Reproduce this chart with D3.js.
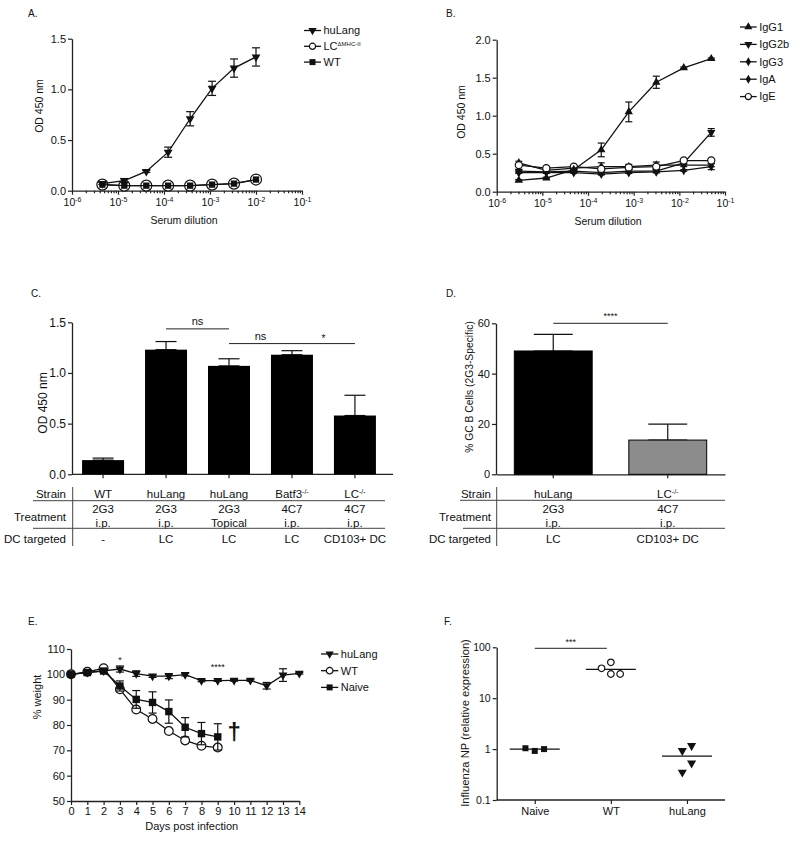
<!DOCTYPE html>
<html><head><meta charset="utf-8">
<script src="https://cdn.jsdelivr.net/npm/d3@7"></script>
<style>
body{margin:0;background:#fff}
text{font-family:"Liberation Sans",Arial,sans-serif;fill:#111}
</style>
</head><body><svg id="c" width="800" height="841"></svg>
<script>
// ---------------- DATA ----------------
// Panel A
const dilutionA = [4.57e-6, 1.37e-5, 4.12e-5, 1.23e-4, 3.7e-4, 1.11e-3, 3.33e-3, 1e-2];
const huLangA    = [0.07, 0.10, 0.19, 0.38, 0.71, 1.01, 1.21, 1.32];
const huLangAErr = [0.01, 0.02, 0.01, 0.05, 0.07, 0.07, 0.09, 0.09];
const lcMhcA     = [0.06, 0.05, 0.05, 0.05, 0.05, 0.06, 0.07, 0.11];
const wtA        = [0.06, 0.05, 0.05, 0.05, 0.05, 0.06, 0.07, 0.11];
const legendA    = ["huLang", "LC", "WT"];
// Panel B
const dilutionB = [3.05e-6, 1.22e-5, 4.88e-5, 1.95e-4, 7.81e-4, 3.125e-3, 1.25e-2, 5e-2];
const igG1     = [0.15, 0.18, 0.29, 0.55, 1.05, 1.44, 1.63, 1.75];
const igG1Err  = [0.01, 0.01, 0.02, 0.09, 0.13, 0.08, 0.01, 0.01];
const igG2b    = [0.27, 0.26, 0.27, 0.25, 0.27, 0.27, 0.38, 0.78];
const igG2bErr = [0.01, 0.01, 0.01, 0.02, 0.02, 0.02, 0.02, 0.05];
const igG3     = [0.38, 0.28, 0.31, 0.33, 0.33, 0.35, 0.35, 0.35];
const igG3Err  = [0.02, 0.02, 0.02, 0.05, 0.03, 0.04, 0.02, 0.02];
const igA      = [0.25, 0.25, 0.25, 0.23, 0.25, 0.26, 0.28, 0.33];
const igAErr   = [0.01, 0.01, 0.01, 0.01, 0.01, 0.01, 0.01, 0.04];
const igE      = [0.35, 0.31, 0.33, 0.30, 0.32, 0.33, 0.41, 0.41];
const legendB  = ["IgG1", "IgG2b", "IgG3", "IgA", "IgE"];
// Panel C
const strainC    = ["WT", "huLang", "huLang", "Batf3", "LC"];
const strainSupC = ["", "", "", "-/-", "-/-"];
const abC        = ["2G3", "2G3", "2G3", "4C7", "4C7"];
const routeC     = ["i.p.", "i.p.", "Topical", "i.p.", "i.p."];
const dcC        = ["-", "LC", "LC", "LC", "CD103+ DC"];
const odC        = [0.14, 1.23, 1.07, 1.18, 0.58];
const odCErr     = [0.02, 0.08, 0.07, 0.04, 0.20];
const sigC       = [[1, 2, "ns", 1.435], [2, 3, "ns", 1.29], [3, 4, "*", 1.29]];
// Panel D
const strainD    = ["huLang", "LC"];
const strainSupD = ["", "-/-"];
const abD        = ["2G3", "4C7"];
const routeD     = ["i.p.", "i.p."];
const dcD        = ["LC", "CD103+ DC"];
const gcD        = [49.0, 13.6];
const gcDErr     = [6.6, 6.3];
// Panel E
const daysE      = [0,1,2,3,4,5,6,7,8,9,10,11,12,13,14];
const huLangE    = [100, 100.8, 101.4, 102.1, 100.3, 99.3, 99.3, 99.9, 97.5, 97.5, 97.6, 97.6, 95.5, 99.7, 100.4];
const huLangEErr = [0.3, 1.0, 0.5, 1.2, 1.1, 0.5, 1.0, 0.5, 0.4, 0.3, 0.3, 0.3, 1.3, 2.5, 0.3];
const wtE        = [100, 101, 102.4, 94.1, 86.1, 82.4, 77.6, 73.9, 71.8, 71.1];
const wtEErr     = [0.3, 0.5, 0.3, 0.7, 0.5, 0.5, 0.4, 0.6, 0.5, 0.8];
const naiveE     = [100, 100.7, 101.3, 95.4, 90.1, 88.9, 85.3, 79.1, 76.6, 75.3];
const naiveEErr  = [0.3, 0.6, 0.5, 2.0, 3.5, 4.2, 4.6, 3.8, 4.4, 5.2];
const legendE    = ["huLang", "WT", "Naive"];
// Panel F
const groupsF  = ["Naive", "WT", "huLang"];
const naiveF   = [0.92, 1.04, 1.0];
const wtF      = [50.7, 29.9, 38.7, 29.9];
const huLangF  = [1.17, 0.93, 0.53, 0.35];
const medianF  = [1.0, 37, 0.73];

// ---------------- HELPERS ----------------
const svg = d3.select("#c");
const INK = "#111";

function label(x, y, s, size, anchor="start", weight="normal") {
  return svg.append("text").attr("x", x).attr("y", y).attr("font-size", size)
    .attr("text-anchor", anchor).attr("font-weight", weight).text(s);
}
function yLabel(x, y, s, size) {
  svg.append("text").attr("transform", `translate(${x},${y}) rotate(-90)`)
    .attr("dy", "0.35em").attr("text-anchor", "middle").attr("font-size", size).text(s);
}
function styleAxis(g, fs) {
  g.attr("color", "#222");
  g.selectAll("path.domain").attr("stroke-width", 1.3);
  g.selectAll(".tick line").attr("stroke-width", 1.2);
  g.selectAll("text").attr("font-size", fs).attr("fill", INK)
    .attr("font-family", "Liberation Sans, Arial, sans-serif");
}
const isMajor = d => Math.abs(Math.log10(d) - Math.round(Math.log10(d))) < 1e-6;
function logXAxis(x, y0) {
  const [d0, d1] = x.domain();
  const e0 = Math.round(Math.log10(d0)), e1 = Math.round(Math.log10(d1));
  const ticks = [];
  for (let e = e0; e <= e1; e++) for (let m = 1; m <= 9; m++) {
    const v = m * Math.pow(10, e); if (v <= d1 * 1.0001) ticks.push(v);
  }
  const g = svg.append("g").attr("transform", `translate(0,${y0})`)
    .call(d3.axisBottom(x).tickValues(ticks).tickSizeOuter(0).tickFormat(""));
  styleAxis(g, 10);
  g.selectAll(".tick line").attr("y2", d => isMajor(d) ? 4 : 2.5);
  g.selectAll(".tick").filter(d => isMajor(d)).append("text")
    .attr("y", 15.5).attr("text-anchor", "middle").attr("font-size", 10.5)
    .each(function(d) {
      const t = d3.select(this);
      t.append("tspan").text("10");
      t.append("tspan").attr("dy", -4).attr("font-size", 7).text(String(Math.round(Math.log10(d))));
    });
  return g;
}
function marker(g, type, x, y, size) {
  let sym;
  if (type === "down" || type === "up") sym = d3.symbolTriangle;
  else if (type === "square") sym = d3.symbolSquare;
  else if (type === "diamond") sym = d3.symbolDiamond;
  else sym = d3.symbolCircle;
  const p = g.append("path").attr("d", d3.symbol().type(sym).size(size)())
    .attr("transform", `translate(${x},${y})` + (type === "down" ? " rotate(180)" : ""));
  if (type === "circle") p.attr("fill", "#fff").attr("stroke", INK).attr("stroke-width", 1.2);
  else p.attr("fill", INK);
  return p;
}
function errBar(g, x, yTop, yBot, cap) {
  g.append("line").attr("x1", x).attr("x2", x).attr("y1", yTop).attr("y2", yBot)
    .attr("stroke", INK).attr("stroke-width", 1.2);
  g.append("line").attr("x1", x - cap/2).attr("x2", x + cap/2).attr("y1", yTop).attr("y2", yTop)
    .attr("stroke", INK).attr("stroke-width", 1.2);
  if (yBot !== null) g.append("line").attr("x1", x - cap/2).attr("x2", x + cap/2).attr("y1", yBot).attr("y2", yBot)
    .attr("stroke", INK).attr("stroke-width", 1.2);
}
function series(xs, ys, errs, xScale, yScale, type, size, cap) {
  const g = svg.append("g");
  const pts = xs.map((d, i) => [xScale(d), yScale(ys[i])]);
  g.append("path").attr("d", d3.line()(pts)).attr("fill", "none").attr("stroke", INK).attr("stroke-width", 1.3);
  if (errs) xs.forEach((d, i) => {
    if (errs[i] > 0) errBar(g, xScale(d), yScale(ys[i] + errs[i]), yScale(ys[i] - errs[i]), cap);
  });
  pts.forEach(p => marker(g, type, p[0], p[1], size));
  return g;
}
function legend(items, types, sizes, x0, x1, y0, dy, fs, sups) {
  items.forEach((s, i) => {
    const y = y0 + i * dy;
    svg.append("line").attr("x1", x0).attr("x2", x1).attr("y1", y).attr("y2", y)
      .attr("stroke", INK).attr("stroke-width", 1.3);
    marker(svg, types[i], (x0 + x1) / 2, y, sizes[i]);
    const t = svg.append("text").attr("x", x1 + 2.5).attr("y", y).attr("dy", "0.35em").attr("font-size", fs);
    t.append("tspan").text(s);
    if (sups && sups[i]) t.append("tspan").attr("dy", -4).attr("font-size", 6).text(sups[i]);
  });
}
function strainText(x, y, s, sup, fs, anchor="middle") {
  const t = svg.append("text").attr("x", x).attr("y", y).attr("text-anchor", anchor).attr("font-size", fs);
  t.append("tspan").text(s);
  if (sup) t.append("tspan").attr("dy", -4).attr("font-size", 7).text(sup);
}

// ---------------- PANEL A ----------------
label(28, 17, "A.", 10);
{
  const x = d3.scaleLog().domain([1e-6, 1e-1]).range([72, 302]);
  const y = d3.scaleLinear().domain([0, 1.5]).range([190.7, 38.7]);
  logXAxis(x, 190.7);
  const ga = svg.append("g").attr("transform", "translate(72,0)")
    .call(d3.axisLeft(y).tickValues([0, 0.5, 1, 1.5]).tickFormat(d3.format(".1f")).tickSize(4).tickSizeOuter(0).tickPadding(2));
  styleAxis(ga, 11);
  yLabel(39, 106, "OD 450 nm", 10.5);
  label(184, 224, "Serum dilution", 10.5, "middle");
  series(dilutionA, lcMhcA, null, x, y, "circle", 95, 8);
  series(dilutionA, wtA, null, x, y, "square", 40, 8);
  series(dilutionA, huLangA, huLangAErr, x, y, "down", 34, 8);
  legend(legendA, ["down", "circle", "square"], [30, 30, 36], 304, 321, 30.5, 15.8, 11, ["", "ΔMHC-II", ""]);
}

// ---------------- PANEL B ----------------
label(446, 17, "B.", 10);
{
  const x = d3.scaleLog().domain([1e-6, 1e-1]).range([496.7, 725]);
  const y = d3.scaleLinear().domain([0, 2]).range([191.7, 39.7]);
  logXAxis(x, 191.7);
  const ga = svg.append("g").attr("transform", "translate(496.7,0)")
    .call(d3.axisLeft(y).tickValues([0, 0.5, 1, 1.5, 2]).tickFormat(d3.format(".1f")).tickSize(4).tickSizeOuter(0).tickPadding(2));
  styleAxis(ga, 11);
  yLabel(461.7, 112, "OD 450 nm", 10.5);
  label(608, 225, "Serum dilution", 10.5, "middle");
  series(dilutionB, igA, igAErr, x, y, "diamond", 26, 7);
  series(dilutionB, igG3, igG3Err, x, y, "diamond", 26, 7);
  series(dilutionB, igG2b, igG2bErr, x, y, "down", 30, 7);
  series(dilutionB, igE, null, x, y, "circle", 40, 7);
  series(dilutionB, igG1, igG1Err, x, y, "up", 30, 7);
  legend(legendB, ["up", "down", "diamond", "diamond", "circle"], [28, 28, 24, 24, 30], 740, 756.7, 27, 17.4, 11);
}

// ---------------- PANEL C ----------------
label(31, 297, "C.", 10);
{
  const idx = d3.range(strainC.length);
  const x = d3.scaleBand().domain(idx).range([72, 386]).paddingInner(0.333).paddingOuter(0.16);
  const y = d3.scaleLinear().domain([0, 1.5]).range([474.3, 322.3]);
  const gx = svg.append("g").attr("transform", "translate(0,474.3)")
    .call(d3.axisBottom(x).tickFormat("").tickSize(4).tickSizeOuter(0));
  styleAxis(gx, 11);
  gx.select("path.domain").attr("d", "M72,0H393");
  const gy = svg.append("g").attr("transform", "translate(72,0)")
    .call(d3.axisLeft(y).tickValues([0, 0.5, 1, 1.5]).tickFormat(d3.format(".1f")).tickSize(4).tickSizeOuter(0).tickPadding(2));
  styleAxis(gy, 12);
  yLabel(42.7, 403, "OD 450 nm", 12);
  const g = svg.append("g");
  idx.forEach(i => {
    const cx = x(i) + x.bandwidth() / 2;
    errBar(g, cx, y(odC[i] + odCErr[i]), y(odC[i]), x.bandwidth() / 2);
  });
  g.selectAll("rect").data(idx).enter().append("rect")
    .attr("x", i => x(i)).attr("width", x.bandwidth())
    .attr("y", i => y(odC[i])).attr("height", i => y(0) - y(odC[i]))
    .attr("fill", "#000");
  sigC.forEach(([a, b, s, v]) => {
    const xa = x(a) + x.bandwidth() / 2, xb = x(b) + x.bandwidth() / 2;
    svg.append("line").attr("x1", xa).attr("x2", xb).attr("y1", y(v)).attr("y2", y(v))
      .attr("stroke", "#222").attr("stroke-width", 1);
    label((xa + xb) / 2, y(v) - (s === "*" ? 2 : 4), s, s === "*" ? 10 : 11, "middle");
  });
  // table
  const fs = 11.5;
  label(66, 497.5, "Strain", fs, "end");
  label(66, 520.5, "Treatment", fs, "end");
  label(66, 542.5, "DC targeted", fs, "end");
  idx.forEach(i => {
    const cx = x(i) + x.bandwidth() / 2;
    strainText(cx, 497.5, strainC[i], strainSupC[i], fs);
    label(cx, 513, abC[i], fs, "middle");
    label(cx, 526.5, routeC[i], fs, "middle");
    label(cx, 542.5, dcC[i], fs, "middle");
  });
  [500.7, 528.3].forEach(yy => svg.append("line").attr("x1", 33).attr("x2", 385).attr("y1", yy).attr("y2", yy)
    .attr("stroke", "#444").attr("stroke-width", 1));
  svg.append("line").attr("x1", 72.7).attr("x2", 72.7).attr("y1", 487).attr("y2", 546).attr("stroke", "#444").attr("stroke-width", 1);
}

// ---------------- PANEL D ----------------
label(446, 297, "D.", 10);
{
  const idx = d3.range(strainD.length);
  const x = d3.scaleBand().domain(idx).range([496, 725]).paddingInner(0.32).paddingOuter(0.16);
  const y = d3.scaleLinear().domain([0, 60]).range([474.3, 323.3]);
  const gx = svg.append("g").attr("transform", "translate(0,474.3)")
    .call(d3.axisBottom(x).tickFormat("").tickSize(4).tickSizeOuter(0));
  styleAxis(gx, 11);
  const gy = svg.append("g").attr("transform", "translate(496,0)")
    .call(d3.axisLeft(y).tickValues([0, 20, 40, 60]).tickSize(4).tickSizeOuter(0).tickPadding(2));
  styleAxis(gy, 11);
  yLabel(469, 387, "% GC B Cells (2G3-Specific)", 10.3);
  const g = svg.append("g");
  const fills = ["#000", "#8c8c8c"];
  idx.forEach(i => {
    const cx = x(i) + x.bandwidth() / 2;
    errBar(g, cx, y(gcD[i] + gcDErr[i]), y(gcD[i]), x.bandwidth() / 2);
  });
  g.selectAll("rect").data(idx).enter().append("rect")
    .attr("x", i => x(i)).attr("width", x.bandwidth())
    .attr("y", i => y(gcD[i])).attr("height", i => y(0) - y(gcD[i]))
    .attr("fill", i => fills[i]).attr("stroke", "#000").attr("stroke-width", 1);
  const xa = x(0) + x.bandwidth() / 2, xb = x(1) + x.bandwidth() / 2;
  svg.append("line").attr("x1", xa).attr("x2", xb).attr("y1", y(60)).attr("y2", y(60)).attr("stroke", "#222").attr("stroke-width", 1);
  label((xa + xb) / 2, y(60) - 4, "****", 9, "middle");
  const fs = 11.5;
  label(491, 497.5, "Strain", fs, "end");
  label(491, 520.5, "Treatment", fs, "end");
  label(491, 542.5, "DC targeted", fs, "end");
  idx.forEach(i => {
    const cx = x(i) + x.bandwidth() / 2;
    strainText(cx, 497.5, strainD[i], strainSupD[i], fs);
    label(cx, 513, abD[i], fs, "middle");
    label(cx, 526.5, routeD[i], fs, "middle");
    label(cx, 542.5, dcD[i], fs, "middle");
  });
  svg.append("line").attr("x1", 460).attr("x2", 725).attr("y1", 500.3).attr("y2", 500.3).attr("stroke", "#444");
  svg.append("line").attr("x1", 463).attr("x2", 725).attr("y1", 528.3).attr("y2", 528.3).attr("stroke", "#444");
  svg.append("line").attr("x1", 496.7).attr("x2", 496.7).attr("y1", 487).attr("y2", 546).attr("stroke", "#444");
}

// ---------------- PANEL E ----------------
label(28, 625, "E.", 10);
{
  const x = d3.scaleLinear().domain([0, 14]).range([71, 299.3]);
  const y = d3.scaleLinear().domain([50, 110]).range([801, 649]);
  const gx = svg.append("g").attr("transform", "translate(0,801)")
    .call(d3.axisBottom(x).tickValues(daysE).tickSize(4).tickSizeOuter(0).tickPadding(2));
  styleAxis(gx, 11);
  const gy = svg.append("g").attr("transform", "translate(71,0)")
    .call(d3.axisLeft(y).tickValues([50, 60, 70, 80, 90, 100, 110]).tickSize(4).tickSizeOuter(0).tickPadding(2));
  styleAxis(gy, 11);
  yLabel(37.3, 697, "% weight", 11);
  label(191.7, 830, "Days post infection", 11, "middle");
  const dW = daysE.slice(0, wtE.length);
  series(dW, wtE, wtEErr, x, y, "circle", 60, 8);
  series(dW, naiveE, naiveEErr, x, y, "square", 55, 8);
  series(daysE, huLangE, huLangEErr, x, y, "down", 34, 8);
  label(x(3), 663, "*", 9, "middle");
  label(x(9), 670, "****", 9, "middle");
  label(x(10), 740, "†", 24, "middle", "bold");
  legend(legendE, ["down", "circle", "square"], [30, 34, 36], 321, 338.3, 654, 16.7, 11);
}

// ---------------- PANEL F ----------------
label(444, 625, "F.", 10);
{
  const x = d3.scalePoint().domain(groupsF).range([496.7, 725]).padding(0.5);
  const y = d3.scaleLog().domain([0.1, 100]).range([800, 647.3]);
  const gx = svg.append("g").attr("transform", "translate(0,800)")
    .call(d3.axisBottom(x).tickSize(4).tickSizeOuter(0).tickPadding(3));
  styleAxis(gx, 11);
  gx.select("path.domain").attr("d", "M496.7,0H725");
  const gy = svg.append("g").attr("transform", "translate(496.7,0)")
    .call(d3.axisLeft(y).tickValues([0.1, 1, 10, 100]).tickFormat(d => d < 1 ? "0.1" : String(d)).tickSize(4).tickSizeOuter(0).tickPadding(2));
  styleAxis(gy, 10.5);
  yLabel(465, 723, "Influenza NP (relative expression)", 11.2);
  const sets = [naiveF, wtF, huLangF];
  const types = ["square", "circle", "down"];
  const sizes = [36, 34, 36];
  const step = 9.3, minGap = 10;
  const g = svg.append("g");
  groupsF.forEach((grp, gi) => {
    const cx = x(grp);
    g.append("line").attr("x1", cx - 25).attr("x2", cx + 25).attr("y1", y(medianF[gi])).attr("y2", y(medianF[gi]))
      .attr("stroke", INK).attr("stroke-width", 1.3);
    const placed = [];
    sets[gi].forEach(v => {
      const py = y(v);
      const cands = [0, -step, step, -2 * step, 2 * step];
      let off = 0;
      for (const c of cands) {
        if (!placed.some(p => p.off === c && Math.abs(p.y - py) < minGap)) { off = c; break; }
      }
      placed.push({ off, y: py });
    });
    const mean = d3.mean(placed, p => p.off);
    placed.forEach(p => marker(g, types[gi], cx + p.off - mean, p.y, sizes[gi]));
  });
  const xa = x("Naive"), xb = x("WT") - 4;
  svg.append("line").attr("x1", xa).attr("x2", xb).attr("y1", 648.3).attr("y2", 648.3).attr("stroke", "#222");
  label((xa + xb) / 2, 645, "***", 9, "middle");
}
</script></body></html>
